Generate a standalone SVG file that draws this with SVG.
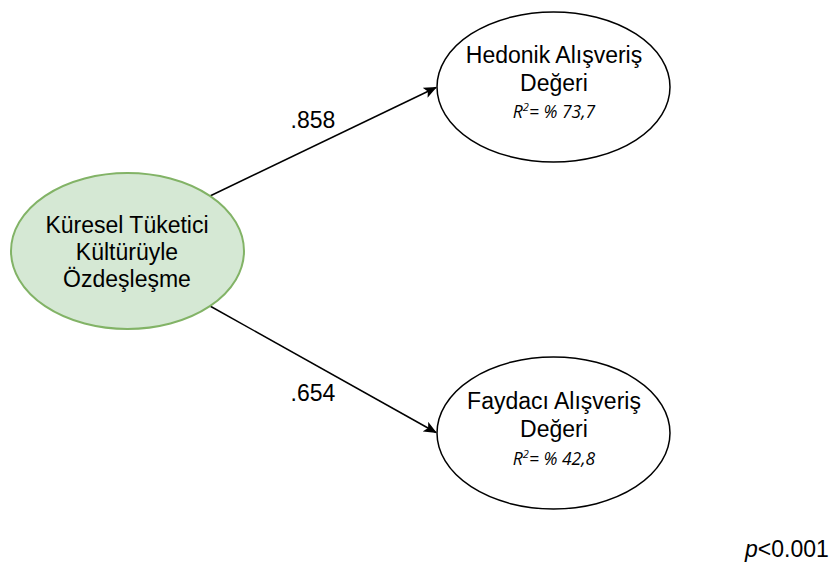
<svg xmlns="http://www.w3.org/2000/svg" width="835" height="576" viewBox="0 0 835 576">
<defs>
<style>
.t{font-family:"Liberation Sans",Arial,sans-serif;font-size:23px;fill:#000;text-anchor:middle}
.r{font-family:"Open Sans","Noto Sans",sans-serif;font-size:17.5px;font-style:italic;fill:#000;text-anchor:middle}
.out{fill:#fff;stroke:#000;stroke-width:1.5}
.grn{fill:#d5e8d4;stroke:#82b366;stroke-width:2}
.edge{stroke:#000;stroke-width:1.5;fill:none}
</style>
<marker id="arr" markerUnits="userSpaceOnUse" markerWidth="14" markerHeight="12" refX="12" refY="5.5" orient="auto">
<path d="M0,0 L13,5.5 L0,11 L3,5.5 z" fill="#000"/>
</marker>
</defs>
<rect width="835" height="576" fill="#fff"/>
<g id="connectors">
<line class="edge" x1="210" y1="196" x2="436" y2="87.5" marker-end="url(#arr)"/>
<line class="edge" x1="210" y1="306" x2="436" y2="432.5" marker-end="url(#arr)"/>
<text class="t" x="313" y="128">.858</text>
<text class="t" x="313" y="401">.654</text>
</g>
<g id="kuresel">
<ellipse class="grn" cx="127.5" cy="251" rx="116.5" ry="78"/>
<text class="t" x="127" y="233">Küresel Tüketici</text>
<text class="t" x="127" y="260">Kültürüyle</text>
<text class="t" x="127" y="287">Özdeşleşme</text>
</g>
<g id="hedonik">
<ellipse class="out" cx="553.5" cy="87" rx="116.5" ry="75"/>
<text class="t" x="554" y="63">Hedonik Alışveriş</text>
<text class="t" x="554" y="91">Değeri</text>
<text class="r" x="554" y="118">R<tspan dy="-7" font-size="11">2</tspan><tspan dy="7">= % 73,7</tspan></text>
</g>
<g id="faydaci">
<ellipse class="out" cx="553.5" cy="433" rx="116.5" ry="76"/>
<text class="t" x="554" y="409">Faydacı Alışveriş</text>
<text class="t" x="554" y="437">Değeri</text>
<text class="r" x="554" y="465">R<tspan dy="-7" font-size="11">2</tspan><tspan dy="7">= % 42,8</tspan></text>
</g>
<g id="note">
<text x="745" y="557" font-family="Liberation Sans, Arial, sans-serif" font-size="23"><tspan font-style="italic">p</tspan>&lt;0.001</text>
</g>
</svg>
